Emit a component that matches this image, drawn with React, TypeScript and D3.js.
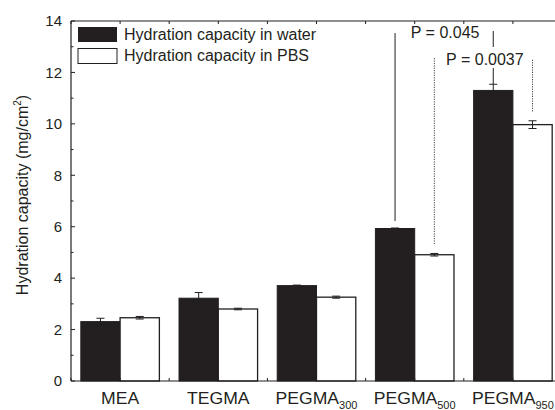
import React from "react";
import * as d3 from "d3";

const categories = ["MEA", "TEGMA", "PEGMA", "PEGMA", "PEGMA"];
const subscripts = ["", "", "300", "500", "950"];
const waterValues = [2.31, 3.22, 3.71, 5.93, 11.3];
const waterErrors = [0.13, 0.22, 0.02, 0.02, 0.24];
const pbsValues = [2.46, 2.8, 3.26, 4.91, 9.97];
const pbsErrors = [0.05, 0.03, 0.04, 0.05, 0.15];
const seriesNames = ["Hydration capacity in water", "Hydration capacity in PBS"];
const yTicks = [0, 2, 4, 6, 8, 10, 12, 14];
const pLabels = ["P = 0.045", "P = 0.0037"];

const W = 555;
const H = 410;
const left = 71;
const right = 562;
const top = 21;
const bottom = 381;
const font = "'Liberation Sans', Arial, Helvetica, sans-serif";
const ink = "#231f20";

export default function App() {
  const x = d3.scaleLinear().domain([0.5, 5.5]).range([left, right]);
  const y = d3.scaleLinear().domain([0, 14]).range([bottom, top]);
  const half = 0.4;
  const minorY = d3.range(1, 14, 2);
  const halfTicks = d3.range(0.5, 5.51, 0.5);

  const errBar = (cx: number, v: number, e: number, key: string) => {
    const cap = 4;
    return (
      <g key={key} stroke={ink} strokeWidth={1}>
        <line x1={cx} x2={cx} y1={y(v - e)} y2={y(v + e)} />
        <line x1={cx - cap} x2={cx + cap} y1={y(v + e)} y2={y(v + e)} />
        <line x1={cx - cap} x2={cx + cap} y1={y(v - e)} y2={y(v - e)} />
      </g>
    );
  };

  return (
    <svg width={W} height={H} style={{ position: "absolute", left: 0, top: 0 }} fontFamily={font}>
      <rect x={0} y={0} width={W} height={H} fill="#fff" />
      {/* bars */}
      {categories.map((c, i) => {
        const k = i + 1;
        return (
          <g key={"b" + i}>
            <rect
              x={x(k - half)}
              y={y(waterValues[i])}
              width={x(k) - x(k - half)}
              height={y(0) - y(waterValues[i])}
              fill={ink}
              stroke={ink}
              strokeWidth={1}
            />
            <rect
              x={x(k)}
              y={y(pbsValues[i])}
              width={x(k + half) - x(k)}
              height={y(0) - y(pbsValues[i])}
              fill="#fff"
              stroke={ink}
              strokeWidth={1.3}
            />
          </g>
        );
      })}
      {/* error bars */}
      {categories.map((c, i) => errBar(x(i + 1 - half / 2), waterValues[i], waterErrors[i], "ew" + i))}
      {categories.map((c, i) => errBar(x(i + 1 + half / 2), pbsValues[i], pbsErrors[i], "ep" + i))}

      {/* axes frame */}
      <g stroke={ink} strokeWidth={1.2} fill="none">
        <line x1={left} x2={left} y1={top} y2={bottom} />
        <line x1={left} x2={right} y1={bottom} y2={bottom} />
        <line x1={left} x2={right} y1={top} y2={top} />
      </g>
      {/* ticks */}
      <g stroke={ink} strokeWidth={1}>
        {yTicks.map((t) => (
          <line key={"yt" + t} x1={left} x2={left + 4} y1={y(t)} y2={y(t)} />
        ))}
        {minorY.map((t) => (
          <line key={"ym" + t} x1={left} x2={left + 2.5} y1={y(t)} y2={y(t)} />
        ))}
        {halfTicks.map((t) => (
          <line key={"xb" + t} x1={x(t)} x2={x(t)} y1={bottom} y2={bottom - 3} />
        ))}
        {halfTicks.map((t) => (
          <line key={"xt" + t} x1={x(t)} x2={x(t)} y1={top} y2={top + 3} />
        ))}
      </g>
      {/* y tick labels */}
      {yTicks.map((t) => (
        <text key={"yl" + t} x={62} y={y(t)} dy="0.35em" textAnchor="end" fontSize={15} fill={ink}>
          {t}
        </text>
      ))}
      {/* x labels */}
      {categories.map((c, i) => (
        <text
          key={"xl" + i}
          transform={`translate(${x(i + 1) - (subscripts[i] ? 0 : 0)},403.5) scale(1.1,1)`}
          textAnchor="middle"
          fontSize={16}
          fill={ink}
        >
          {c}
          {subscripts[i] ? (
            <tspan fontSize={10} dy={5}>
              {subscripts[i]}
            </tspan>
          ) : null}
        </text>
      ))}
      {/* y axis title */}
      <text
        transform={`translate(28,${(top + bottom) / 2 - 6}) rotate(-90)`}
        textAnchor="middle"
        fontSize={16}
        fill={ink}
      >
        Hydration capacity (mg/cm
        <tspan fontSize={10} dy={-7}>2</tspan>
        <tspan dy={7}>)</tspan>
      </text>

      {/* legend */}
      <rect x={78} y={27} width={39} height={15} fill={ink} />
      <rect x={78} y={48.5} width={39} height={15} fill="#fff" stroke={ink} strokeWidth={1} />
      <text x={124} y={39.5} fontSize={16} fill={ink}>{seriesNames[0]}</text>
      <text x={124} y={61} fontSize={16} fill={ink}>{seriesNames[1]}</text>

      {/* significance annotations */}
      <g stroke={ink} strokeWidth={1}>
        <line x1={x(3.8)} x2={x(3.8)} y1={y(13.53)} y2={y(6.22)} />
        <line x1={x(4.8)} x2={x(4.8)} y1={y(13.61)} y2={y(12.99)} />
        <line x1={x(4.8)} x2={x(4.8)} y1={y(12.17)} y2={y(11.55)} />
      </g>
      <g stroke="#444" strokeWidth={1} strokeDasharray="1.2 1.2">
        <line x1={x(4.2)} x2={x(4.2)} y1={y(12.56)} y2={y(5.29)} />
        <line x1={x(5.2)} x2={x(5.2)} y1={y(12.49)} y2={y(10.46)} />
      </g>
      <text x={x(3.96)} y={y(13.34)} fontSize={16} fill={ink}>{pLabels[0]}</text>
      <text x={x(4.32)} y={y(12.29)} fontSize={16} fill={ink}>{pLabels[1]}</text>
    </svg>
  );
}
